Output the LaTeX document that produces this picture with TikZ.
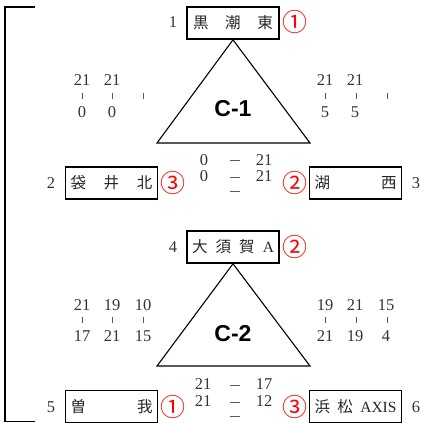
\documentclass[tikz,border=0pt]{standalone}
\usepackage{fontspec}
\setmainfont{Liberation Serif}
\newfontfamily\jpfont{Noto Sans CJK JP}
\newfontfamily\grpfont{Liberation Sans}
\newfontfamily\symfont{Noto Sans CJK JP Light}
\begin{document}
\begin{tikzpicture}[x=1pt,y=-1pt,
  team/.style={draw, line width=1.6pt, minimum width=92pt, minimum height=32pt, inner sep=0pt,
    font=\jpfont\fontsize{15.5}{15.5}\selectfont, text=black!85},
  num/.style={font=\fontsize{16.5}{16.5}\selectfont, text=black!80, inner sep=0pt},
  seed/.style={font=\jpfont\fontsize{25}{25}\selectfont, text=red, inner sep=0pt},
  tickmark/.style={inner sep=0pt, text=black!65},
  dashmark/.style={inner sep=0pt, text=black!65},
  tri/.style={line width=1.1pt},
  grp/.style={font=\grpfont\bfseries\fontsize{23}{23}\selectfont, inner sep=0pt}
]
\useasboundingbox (0,0) rectangle (421,423);
\newcommand{\tk}{\rule{0.8pt}{6pt}}
\newcommand{\dk}{\rule{10.5pt}{0.8pt}}
% bracket
\coordinate (bt) at (35,7);
\coordinate (btl) at (5,7);
\coordinate (bbl) at (5,421.5);
\coordinate (bb) at (35,421.5);
\draw[line width=1.8pt] (bt) -- (btl) -- (bbl) -- (bb);

% ---------- C-1 ----------
\node[team] (t1) at (233,23) {\makebox[80pt][s]{黒\hfill 潮\hfill 東}};
\node[team] (t2) at (111.5,183) {\makebox[82pt][s]{袋\hfill 井\hfill 北}};
\node[team] (t3) at (355.5,183) {\makebox[82pt][s]{湖\hfill 西}};
\node[num] (n1) at (173,22) {1};
\node[num] (n2) at (51,183) {2};
\node[num] (n3) at (416,183) {3};
\node[seed] (s1) at (295,22) {①};
\node[seed] (s2) at (173,183) {③};
\node[seed] (s3) at (295,183) {②};
\coordinate (c1l) at (157,143);
\coordinate (c1r) at (310,143);
\draw[tri] (t1.south) -- (c1l) -- (c1r) -- cycle;
\node[grp] (g1) at (233,109) {C-1};
% left scores
\node[num] (a1) at (82,80) {21};
\node[num] (a2) at (112,80) {21};
\node[tickmark] (a3) at (82,96) {\tk};
\node[tickmark] (a4) at (112.5,96) {\tk};
\node[tickmark] (a5) at (143,96) {\tk};
\node[num] (a6) at (82,112) {0};
\node[num] (a7) at (112,112) {0};
% right scores
\node[num] (b1) at (325,80) {21};
\node[num] (b2) at (355,80) {21};
\node[tickmark] (b3) at (325,96) {\tk};
\node[tickmark] (b4) at (356,96) {\tk};
\node[tickmark] (b5) at (387,96) {\tk};
\node[num] (b6) at (325,112) {5};
\node[num] (b7) at (355,112) {5};
% bottom scores
\node[num] (d1) at (204,160) {0};
\node[dashmark] (d2) at (235,160) {\dk};
\node[num] (d3) at (264,160) {21};
\node[num] (d4) at (204,176) {0};
\node[dashmark] (d5) at (235,177) {\dk};
\node[num] (d6) at (264,176) {21};
\node[dashmark] (d7) at (235,191) {\dk};

% ---------- C-2 ----------
\node[team] (t4) at (233,247) {\makebox[82pt][s]{大\hfill 須\hfill 賀\hfill {\rmfamily A}}};
\node[team] (t5) at (111.5,406.5) {\makebox[82pt][s]{曽\hfill 我}};
\node[team] (t6) at (355.5,406.5) {\makebox[82pt][s]{浜\hfill 松\hfill {\rmfamily AXIS}}};
\node[num] (n4) at (173,247) {4};
\node[num] (n5) at (51,407) {5};
\node[num] (n6) at (416,407) {6};
\node[seed] (s4) at (295,247) {②};
\node[seed] (s5) at (173,407) {①};
\node[seed] (s6) at (295,407) {③};
\coordinate (c2l) at (157,366);
\coordinate (c2r) at (310,366);
\draw[tri] (t4.south) -- (c2l) -- (c2r) -- cycle;
\node[grp] (g2) at (233,334) {C-2};
% left scores
\node[num] (e1) at (82,305) {21};
\node[num] (e2) at (112,305) {19};
\node[num] (e3) at (143,305) {10};
\node[tickmark] (e4) at (82,320) {\tk};
\node[tickmark] (e5) at (112.5,320) {\tk};
\node[tickmark] (e6) at (143,320) {\tk};
\node[num] (e7) at (82,336) {17};
\node[num] (e8) at (112,336) {21};
\node[num] (e9) at (143,336) {15};
% right scores
\node[num] (f1) at (325,305) {19};
\node[num] (f2) at (355,305) {21};
\node[num] (f3) at (386,305) {15};
\node[tickmark] (f4) at (325,320) {\tk};
\node[tickmark] (f5) at (356,320) {\tk};
\node[tickmark] (f6) at (387,320) {\tk};
\node[num] (f7) at (325,336) {21};
\node[num] (f8) at (355,336) {19};
\node[num] (f9) at (386,336) {4};
% bottom scores
\node[num] (h1) at (203,384) {21};
\node[dashmark] (h2) at (235,385) {\dk};
\node[num] (h3) at (264,384) {17};
\node[num] (h4) at (203,401) {21};
\node[dashmark] (h5) at (235,402) {\dk};
\node[num] (h6) at (264,401) {12};
\node[dashmark] (h7) at (235,416) {\dk};
\end{tikzpicture}
\end{document}
